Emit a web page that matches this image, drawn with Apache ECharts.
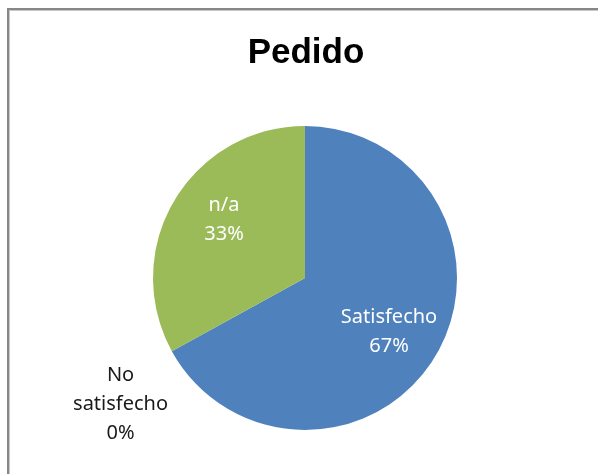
<!DOCTYPE html>
<html>
<head>
<meta charset="utf-8">
<script src="https://cdn.jsdelivr.net/npm/echarts@6/dist/echarts.min.js"></script>
<style>
  html, body { margin: 0; padding: 0; background: #ffffff; overflow: hidden; }
  #frame {
    position: absolute; left: 0; top: 0; width: 598px; height: 474px;
  }
  #edge {
    position: absolute; left: 7px; top: 8px; width: 700px; height: 600px;
    border-left: 2px solid #878787; border-top: 2px solid #878787;
    box-shadow: inset 1px 1px 0 #c8c8c8;
    pointer-events: none;
  }
  #chart { position: absolute; left: 0; top: 0; width: 598px; height: 474px; }
</style>
</head>
<body>
<div id="frame">
  <div id="chart"></div>
  <div id="edge"></div>
</div>
<script>
  // Order satisfaction shares (percent)
  const categories = ['Satisfecho', 'No satisfecho', 'n/a'];
  const shares = [67, 0, 33];
  const sliceColors = ['#4F81BD', '#C0504D', '#9BBB59'];
  const titleText = 'Pedido';

  const labelFont = '"Noto Sans", "Open Sans", sans-serif';
  // label nudges so the text sits further out from the centre
  const labelOffsets = [[16, 14], [10, 48], [-13, -18]];

  const pieData = categories.map((name, i) => {
    const item = {
      name: name,
      value: shares[i],
      itemStyle: { color: sliceColors[i] },
      label: { offset: labelOffsets[i] }
    };
    if (shares[i] === 0) {
      // empty slice: label sits outside the pie in dark text
      item.label = {
        position: 'outside',
        offset: labelOffsets[i],
        color: '#1a1a1a',
        formatter: '{t|' + name.replace(' ', '\n') + '\n{c}%}',
        rich: { t: { align: 'center', fontSize: 20, lineHeight: 29, fontFamily: labelFont, color: '#1a1a1a' } }
      };
      item.labelLine = { show: false, length: 10, length2: 0 };
    }
    return item;
  });

  const chart = echarts.init(document.getElementById('chart'), null, { renderer: 'canvas' });
  chart.setOption({
    animation: false,
    backgroundColor: '#ffffff',
    title: {
      text: titleText,
      left: 301,
      top: 31,
      textAlign: 'center',
      textStyle: { fontFamily: '"Liberation Sans", Arial, sans-serif', fontWeight: 'bold', fontSize: 35, color: '#000000' }
    },
    series: [{
      type: 'pie',
      center: [305, 278],
      radius: 152,
      startAngle: 90,
      clockwise: true,
      avoidLabelOverlap: false,
      minAngle: 0,
      label: {
        show: true,
        position: 'inside',
        formatter: '{b}\n{c}%',
        color: '#ffffff',
        fontFamily: labelFont,
        fontSize: 20,
        lineHeight: 29,
        align: 'center'
      },
      labelLine: { show: false },
      itemStyle: { borderWidth: 0 },
      emphasis: { disabled: true },
      data: pieData
    }]
  });
</script>
</body>
</html>
